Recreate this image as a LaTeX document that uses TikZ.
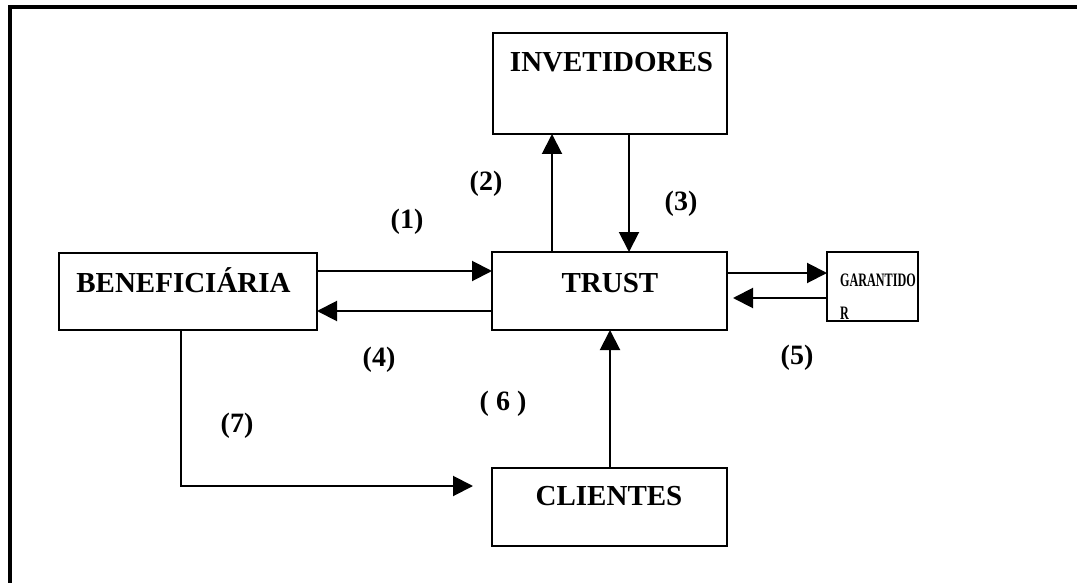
\documentclass[tikz,border=0pt]{standalone}
\usepackage{fontspec}
\setmainfont{Liberation Serif}
\usetikzlibrary{arrows.meta}
\tikzset{
  box/.style={draw, line width=2pt, inner sep=0pt, outer sep=0pt},
  boxtext/.style={font=\fontsize{29}{34}\selectfont\bfseries, inner sep=0pt, anchor=base},
  smalltext/.style={font=\fontsize{19}{22}\selectfont\bfseries, inner sep=0pt, anchor=base west, xscale=0.64},
  numlbl/.style={font=\fontsize{28}{33}\selectfont\bfseries, inner sep=0pt},
  arr/.style={line width=2pt, -{Triangle[length=20pt, width=20pt]}},
  frame/.style={line width=4pt, line join=miter},
}
\begin{document}
\begin{tikzpicture}[x=1pt, y=-1pt]
  \useasboundingbox (0,0) rectangle (1077,583);
  % outer frame, open to the right and bottom
  \begin{scope}
    \clip (0,0) rectangle (1077,583);
    \draw[frame] (9.5,600) -- (9.5,7) -- (1100,7);
  \end{scope}

  % boxes
  \node[box, minimum width=234pt, minimum height=101pt] (inv) at (610,83.5) {};
  \node[box, minimum width=235pt, minimum height=78pt] (trust) at (609.5,291) {};
  \node[box, minimum width=258pt, minimum height=77pt] (bene) at (188,291.5) {};
  \node[box, minimum width=91pt, minimum height=69pt] (gar) at (872.5,286) {};
  \node[box, minimum width=235pt, minimum height=78pt] (cli) at (609.5,507) {};

  % box texts
  \node[boxtext] (invt) at (611.5,72) {INVETIDORES};
  \node[boxtext] (trustt) at (610,292) {TRUST};
  \node[boxtext] (benet) at (183.5,292) {BENEFICIÁRIA};
  \node[boxtext] (clit) at (609,505) {CLIENTES};
  % the second line of the guarantor label runs into the box edge
  \begin{scope}
    \clip (gar.north west) rectangle (gar.south east);
    \node[smalltext] (gart) at (840,286) {GARANTIDO};
    \node[smalltext] (garr) at (840,319) {R};
  \end{scope}
  \draw[line width=2pt] (gar.south west) -- (gar.south east);

  % levels and bends of the connectors
  \coordinate (y1) at (0,271);
  \coordinate (y4) at (0,311);
  \coordinate (x2) at (552,0);
  \coordinate (x3) at (629,0);
  \coordinate (ya) at (0,273);
  \coordinate (yb) at (0,298);
  \coordinate (x6) at (610,0);
  \coordinate (x7) at (181,0);
  \coordinate (bend7) at (181,486);
  \coordinate (end7) at (473,486);
  \coordinate (end5) at (733,298);

  % connectors
  \draw[arr] (bene.east |- y1) -- (trust.west |- y1);
  \draw[arr] (trust.west |- y4) -- (bene.east |- y4);
  \draw[arr] (trust.north -| x2) -- (inv.south -| x2);
  \draw[arr] (inv.south -| x3) -- (trust.north -| x3);
  \draw[arr] (trust.east |- ya) -- (gar.west |- ya);
  \draw[arr] (gar.west |- yb) -- (end5);
  \draw[arr] (cli.north -| x6) -- (trust.south -| x6);
  \draw[arr] (bene.south -| x7) -- (bend7) -- (end7);

  % step numbers
  \node[numlbl] (n1) at (407,222) {(1)};
  \node[numlbl] (n2) at (486,184) {(2)};
  \node[numlbl] (n3) at (681,204) {(3)};
  \node[numlbl] (n4) at (379,360) {(4)};
  \node[numlbl] (n5) at (797,358) {(5)};
  \node[numlbl] (n6) at (503,404) {( 6 )};
  \node[numlbl] (n7) at (237,426) {(7)};
\end{tikzpicture}
\end{document}
